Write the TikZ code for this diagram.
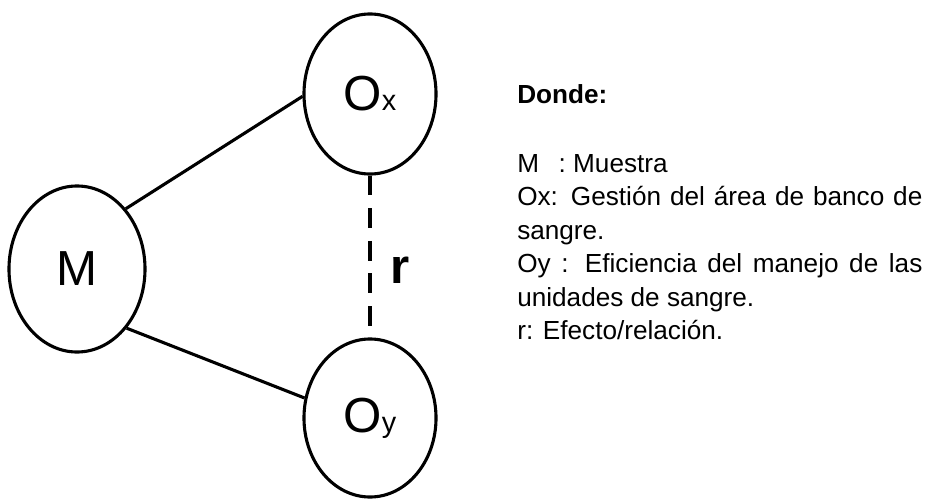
\documentclass[tikz,border=0pt]{standalone}
\usepackage{fontspec}
\setmainfont{Liberation Sans}
\usepackage{tikz}
\usetikzlibrary{shapes.geometric}

\newcommand{\subvar}[2]{#1{\fontsize{20.5}{20.5}\selectfont #2}}

\begin{document}
\begin{tikzpicture}
        [%%%%%%%%%%%%%%%%%%%%%%%%%%%%%%
        x=0.025cm, y=-0.025cm,
        var/.style={ellipse, draw=black, line width=2.2pt, inner sep=0pt,
          font=\fontsize{35}{35}\selectfont},
        link/.style={line width=2.2pt},
        legend/.style={inner sep=0pt, font=\fontsize{18.6}{23.8}\selectfont},
        ]%%%%%%%%%%%%%%%%%%%%%%%%%%%%%%
        \useasboundingbox (0,0) rectangle (925,499);
        % Variables
        \node[var, minimum width=3.4cm, minimum height=4.15cm] (M) at (77,269) {M};
        \node[var, minimum width=3.3cm, minimum height=4.0cm] (Ox) at (370,94) {\subvar{O}{x}};
        \node[var, minimum width=3.3cm, minimum height=3.95cm] (Oy) at (370,418) {\subvar{O}{y}};
        % Lines
        \draw[link] (M.51) -- (Ox.182);
        \draw[link] (M.-50) -- (Oy.163);
        \draw[link, dash pattern=on 14pt off 9.2pt] (Ox.south) -- (Oy.north);
        \node[inner sep=0pt, font=\fontsize{35}{35}\selectfont\bfseries] (r) at (400,270) {r};
        % Text 
        \node[legend, anchor=base west] (donde) at (517,103) {\textbf{Donde:}};
        \node[legend, anchor=north west, text width=10.125cm, align=justify] (lista) at (517,154)
          {M\hspace{0.75em}: Muestra\\
           Ox: Gestión del área de banco de\linebreak sangre.\\
           Oy : Eficiencia del manejo de las\linebreak unidades de sangre.\\
           r: Efecto/relación.};
      \end{tikzpicture}
\end{document}
